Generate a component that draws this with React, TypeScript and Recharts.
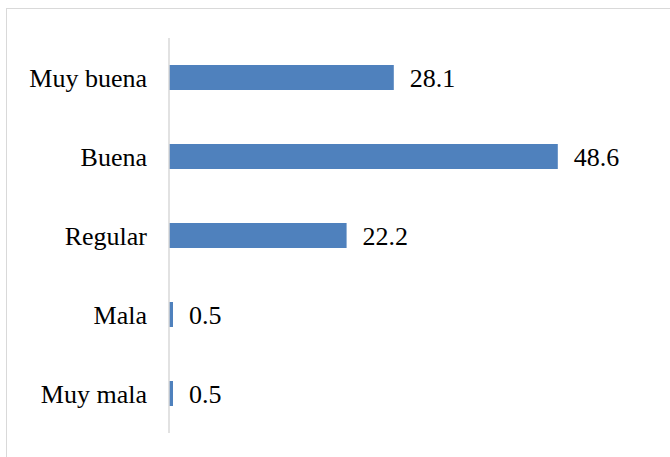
import { BarChart, Bar, XAxis, YAxis, LabelList } from "recharts";

const categories = ["Muy buena", "Buena", "Regular", "Mala", "Muy mala"];
const values = [28.1, 48.6, 22.2, 0.5, 0.5];

const data = categories.map((name, i) => ({ name, value: values[i] }));

export default function App() {
  return (
    <div
      style={{
        position: "absolute",
        left: 0,
        top: 0,
        width: 670,
        height: 457,
        overflow: "hidden",
        background: "#fff",
        fontFamily: "'Liberation Serif', 'Times New Roman', serif",
      }}
    >
      {/* chart frame, cut off on the right and bottom like the source */}
      <div
        style={{
          position: "absolute",
          left: 6,
          top: 8,
          width: 700,
          height: 500,
          border: "1.5px solid #d9d9d9",
        }}
      />
      <div style={{ position: "absolute", left: 0, top: 0 }}>
        <BarChart
          width={670}
          height={457}
          data={data}
          layout="vertical"
          margin={{ top: 38, right: 21, bottom: 24, left: 0 }}
          barSize={25}
          style={{ fontFamily: "'Liberation Serif', 'Times New Roman', serif" }}
        >
          <XAxis type="number" domain={[0, 60]} hide />
          <YAxis
            type="category"
            dataKey="name"
            width={169}
            tickLine={false}
            tickSize={0}
            tickMargin={22}
            axisLine={{ stroke: "#d9d9d9", strokeWidth: 1.5 }}
            tick={{ fill: "#000", fontSize: 26 }}
          />
          <Bar dataKey="value" fill="#4F81BD" isAnimationActive={false}>
            <LabelList
              dataKey="value"
              position="right"
              offset={16}
              fill="#000"
              fontSize={26}
            />
          </Bar>
        </BarChart>
      </div>
    </div>
  );
}
